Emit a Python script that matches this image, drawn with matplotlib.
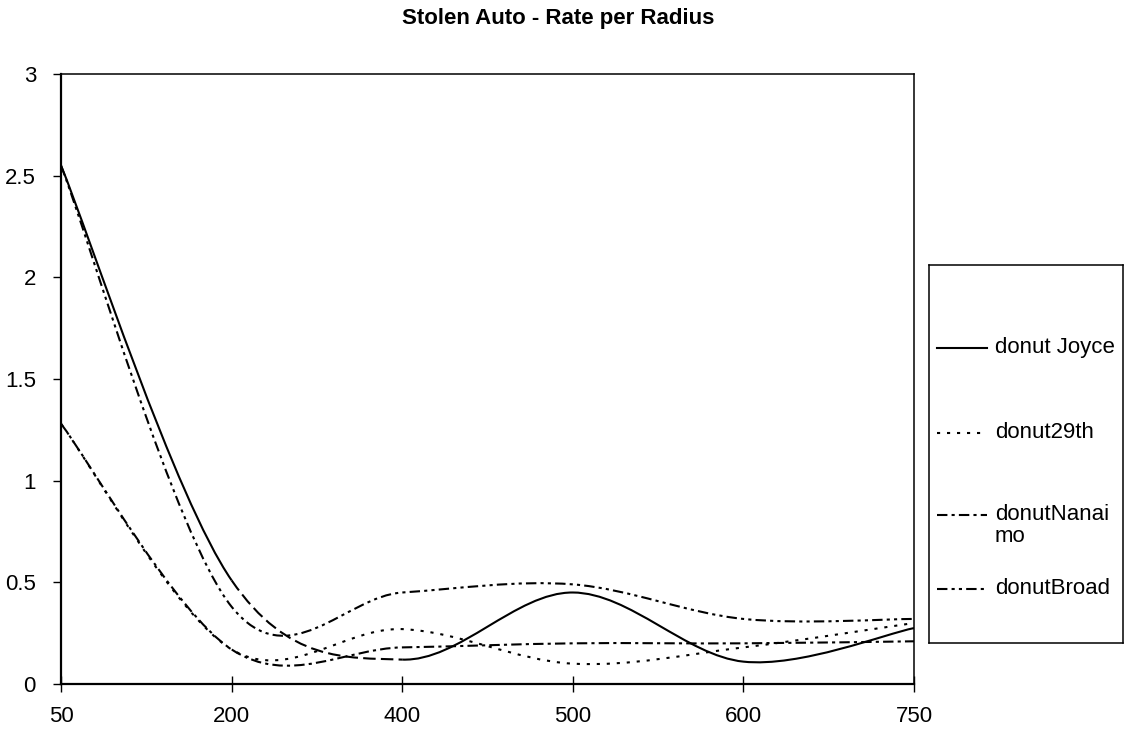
import matplotlib
matplotlib.use("Agg")
import matplotlib.pyplot as plt
from matplotlib.path import Path
from matplotlib.patches import PathPatch

plt.rcParams["font.family"] = ["Liberation Sans", "DejaVu Sans"]

# data
radius = ["50", "200", "400", "500", "600", "750"]
tick_vals = [0, 0.5, 1, 1.5, 2, 2.5, 3]
tick_labels = ["0", "0.5", "1", "1.5", "2", "2.5", "3"]
joyce = [2.55, 0.51, 0.12, 0.45, 0.11, 0.275]
d29th = [1.28, 0.17, 0.27, 0.10, 0.18, 0.30]
nanaimo = [1.28, 0.17, 0.18, 0.20, 0.20, 0.21]
broad = [2.55, 0.38, 0.45, 0.49, 0.32, 0.32]


def smooth_segments(ys):
    # excel style smoothed line: cubic bezier pieces between the points
    xs = list(range(len(ys)))
    n = len(xs)
    segs = []
    for i in range(n - 1):
        a = i - 1 if i > 0 else i
        b = i + 2 if i + 2 < n else i + 1
        c1 = (xs[i] + (xs[i + 1] - xs[a]) / 6, ys[i] + (ys[i + 1] - ys[a]) / 6)
        c2 = (xs[i + 1] - (xs[b] - xs[i]) / 6, ys[i + 1] - (ys[b] - ys[i]) / 6)
        segs.append([(xs[i], ys[i]), c1, c2, (xs[i + 1], ys[i + 1])])
    return segs


def draw(ax, segs, ls, lo=0, hi=None):
    part = segs[lo:hi]
    verts = [part[0][0]]
    codes = [Path.MOVETO]
    for s in part:
        verts += s[1:]
        codes += [Path.CURVE4] * 3
    ax.add_patch(PathPatch(Path(verts, codes), fill=False, lw=1.5,
                           ls=ls, edgecolor="black", capstyle="butt"))


dotted = (0, (1.5, 3.3))
dashdot = (0, (5, 2, 1.5, 2))
dashdotdot = (0, (5, 2, 1.5, 2, 1.5, 2))

fig = plt.figure(figsize=(11.29, 7.31), dpi=100)
ax = fig.add_axes([61 / 1129, 47 / 731, 853 / 1129, 610 / 731])

js = smooth_segments(joyce)
draw(ax, js, "-", 0, 1)
draw(ax, js, (0, (6, 2.5)), 1, 2)
draw(ax, js, "-", 2, None)
draw(ax, smooth_segments(d29th), dotted)
draw(ax, smooth_segments(nanaimo), dashdot)
draw(ax, smooth_segments(broad), dashdotdot)

ax.set_xlim(0, len(radius) - 1)
ax.set_ylim(0, 3)
ax.set_xticks(range(len(radius)))
ax.set_xticklabels(radius)
ax.set_yticks(tick_vals)
ax.set_yticklabels(tick_labels)
ax.tick_params(axis="x", direction="inout", length=11, width=1, pad=10, labelsize=16)
ax.tick_params(axis="y", direction="out", length=6, width=1, pad=12, labelsize=16)
for side in ["left", "bottom"]:
    ax.spines[side].set_linewidth(1.6)
for side in ["top", "right"]:
    ax.spines[side].set_linewidth(1.1)

fig.text(0.494, 0.975, "Stolen Auto - Rate per Radius", ha="center", va="center",
         fontsize=16, fontweight="bold")

# legend box
lax = fig.add_axes([929 / 1129, 88 / 731, 194 / 1129, 378 / 731])
lax.set_xlim(0, 194)
lax.set_ylim(0, 378)
lax.set_xticks([])
lax.set_yticks([])
for sp in lax.spines.values():
    sp.set_linewidth(1.1)
entries = [("donut Joyce", "-", 295), ("donut29th", dotted, 210),
           ("donutNanai\nmo", dashdot, 128), ("donutBroad", dashdotdot, 54)]
for label, ls, yy in entries:
    lax.plot([8, 58], [yy, yy], color="black", lw=1.5, ls=ls)
    lax.text(66, yy + 11, label, ha="left", va="top", fontsize=16, linespacing=1.05)

fig.savefig("out.png", dpi=100)
